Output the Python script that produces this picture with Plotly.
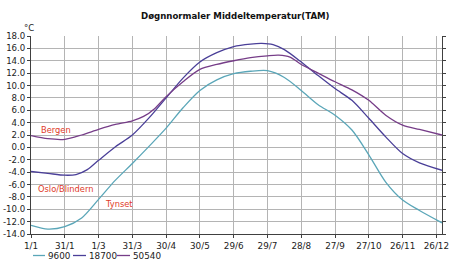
import plotly.graph_objects as go

# ---- data (day of year, 0 = 1 Jan) ----
days_tynset = [0, 15, 30, 45, 60, 75, 90, 105, 120, 135, 150, 165, 180, 195, 210, 225, 240, 255, 270, 285, 300, 315, 330, 345, 365]
temp_tynset = [-12.6, -13.2, -12.8, -11.4, -8.4, -5.3, -2.6, 0.2, 3.1, 6.4, 9.2, 10.9, 11.9, 12.3, 12.4, 11.3, 9.2, 6.9, 5.2, 2.8, -1.2, -5.6, -8.5, -10.2, -12.2]

days_oslo = [0, 15, 30, 40, 50, 60, 75, 90, 105, 120, 135, 150, 165, 180, 195, 205, 215, 225, 240, 255, 270, 285, 300, 315, 330, 345, 365]
temp_oslo = [-3.9, -4.2, -4.5, -4.4, -3.6, -2.1, 0.1, 2.0, 4.8, 8.0, 11.2, 13.8, 15.3, 16.3, 16.7, 16.8, 16.6, 15.8, 13.8, 11.6, 9.5, 7.6, 4.7, 1.7, -1.0, -2.5, -3.7]

days_bergen = [0, 15, 30, 45, 60, 75, 90, 100, 110, 120, 135, 150, 165, 180, 195, 210, 220, 230, 240, 255, 270, 285, 300, 315, 330, 345, 365]
temp_bergen = [1.9, 1.4, 1.3, 2.0, 2.9, 3.7, 4.3, 5.0, 6.3, 8.2, 10.6, 12.6, 13.4, 14.0, 14.5, 14.8, 14.9, 14.6, 13.4, 12.0, 10.6, 9.3, 7.6, 5.2, 3.6, 2.9, 2.0]

series_names = ["9600", "18700", "50540"]
series_colors = ["#5aa6b8", "#4a3f98", "#763d88"]
station_labels = ["Bergen", "Oslo/Blindern", "Tynset"]
station_label_pos = [(8, 2.8), (5, -6.7), (65, -9.1)]

tick_days = [0, 30, 60, 90, 120, 150, 180, 210, 240, 270, 300, 330, 360]
tick_labels = ["1/1", "31/1", "1/3", "31/3", "30/4", "30/5", "29/6", "29/7", "28/8", "27/9", "27/10", "26/11", "26/12"]
y_ticks = [18.0, 16.0, 14.0, 12.0, 10.0, 8.0, 6.0, 4.0, 2.0, 0.0, -2.0, -4.0, -6.0, -8.0, -10.0, -12.0, -14.0]
y_tick_labels = ["18.0", "16.0", "14.0", "12.0", "10.0", "8.0", "6.0", "4.0", "2.0", "0.0",
                 "-2.0", "-4.0", "-6.0", "-8.0", "-10.0", "-12.0", "-14.0"]

title_text = "Døgnnormaler Middeltemperatur(TAM)"
unit_text = "°C"

# ---- figure ----
W, H = 462, 261
L, R, T, B = 31, 20, 36, 27
plot_w = W - L - R
plot_h = H - T - B

def px_to_paper_x(px):
    return (px - L) / plot_w

def px_to_paper_y(py):
    return (H - B - py) / plot_h

fig = go.Figure()
all_days = [days_tynset, days_oslo, days_bergen]
all_temps = [temp_tynset, temp_oslo, temp_bergen]
for name, color, d, t in zip(series_names, series_colors, all_days, all_temps):
    fig.add_trace(go.Scatter(
        x=d, y=t, name=name, mode="lines",
        line=dict(color=color, width=1.3, shape="spline", smoothing=0.8),
        showlegend=False, hoverinfo="skip"))

font_main = "DejaVu Sans, Liberation Sans, sans-serif"
annotations = []
for txt, (dx, dy) in zip(station_labels, station_label_pos):
    annotations.append(dict(x=dx, y=dy, xref="x", yref="y", text=txt, showarrow=False,
                            xanchor="left", yanchor="middle", borderpad=0,
                            font=dict(family=font_main, size=8.3, color="#e03a28")))

annotations.append(dict(x=px_to_paper_x(23), y=px_to_paper_y(28), xref="paper", yref="paper",
                        text=unit_text, showarrow=False, xanchor="left", yanchor="middle",
                        borderpad=0, font=dict(family=font_main, size=8.5, color="#222")))
annotations.append(dict(x=px_to_paper_x(235), y=px_to_paper_y(16), xref="paper", yref="paper",
                        text="<b>" + title_text + "</b>", showarrow=False,
                        xanchor="center", yanchor="middle", borderpad=0,
                        font=dict(family=font_main, size=8.6, color="#111")))

# manual legend
shapes = []
legend_line_px = [(33, 45), (73, 86), (117, 130)]
legend_y_px = 255.5
for (x0, x1), name, color in zip(legend_line_px, series_names, series_colors):
    shapes.append(dict(type="line", xref="paper", yref="paper",
                       x0=px_to_paper_x(x0), x1=px_to_paper_x(x1),
                       y0=px_to_paper_y(legend_y_px), y1=px_to_paper_y(legend_y_px),
                       line=dict(color=color, width=1.3)))
    annotations.append(dict(x=px_to_paper_x(x1 + 2), y=px_to_paper_y(legend_y_px),
                            xref="paper", yref="paper", text=name, showarrow=False,
                            xanchor="left", yanchor="middle", borderpad=0,
                            font=dict(family=font_main, size=8.8, color="#222")))

fig.update_layout(
    width=W, height=H,
    margin=dict(l=L, r=R, t=T, b=B, pad=0, autoexpand=False),
    paper_bgcolor="white", plot_bgcolor="white",
    annotations=annotations, shapes=shapes,
    showlegend=False,
)
fig.update_xaxes(range=[0, 365], tickvals=tick_days, ticktext=tick_labels,
                 automargin=False,
                 showgrid=True, gridcolor="#b4b4b4", gridwidth=1,
                 showline=True, linecolor="#404040", linewidth=1,
                 ticks="outside", ticklen=3, tickcolor="#404040",
                 zeroline=False, tickfont=dict(family=font_main, size=8.8, color="#222"))
fig.update_yaxes(range=[-14, 18], tickvals=y_ticks, ticktext=y_tick_labels,
                 automargin=False,
                 showgrid=True, gridcolor="#b4b4b4", gridwidth=1,
                 showline=True, linecolor="#404040", linewidth=1, mirror="ticks",
                 ticks="outside", ticklen=3, tickcolor="#404040",
                 zeroline=False, tickfont=dict(family=font_main, size=8.6, color="#222"))

fig.write_html("out.html")
